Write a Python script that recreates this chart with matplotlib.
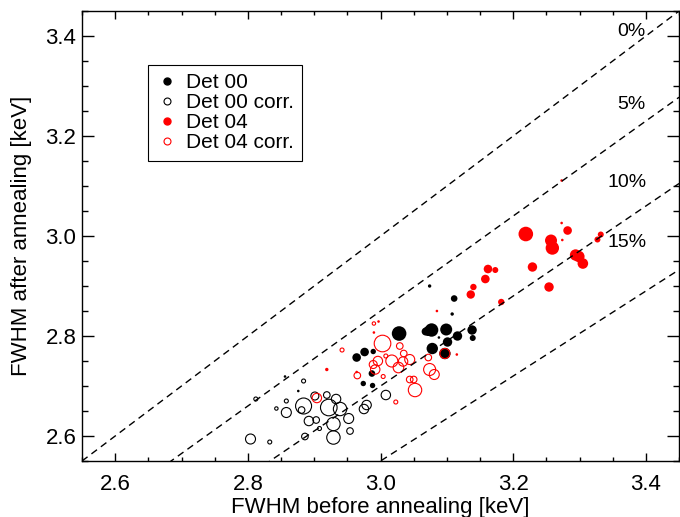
import matplotlib
matplotlib.use('Agg')
import matplotlib.pyplot as plt
from matplotlib.lines import Line2D
import numpy as np

plt.rcParams['font.family'] = ['Liberation Sans', 'DejaVu Sans']

# values: before, after, marker radius (px)
det00_x = [3.028, 2.964, 2.976, 2.989, 2.987, 2.974, 2.988, 3.072, 3.077, 3.099, 3.116,
           3.138, 3.139, 3.101, 3.078, 3.097, 3.088, 3.108, 3.111, 3.074, 2.876, 2.856, 3.068]
det00_y = [2.805, 2.757, 2.768, 2.769, 2.725, 2.705, 2.701, 2.810, 2.812, 2.813, 2.800,
           2.812, 2.796, 2.788, 2.775, 2.765, 2.797, 2.844, 2.875, 2.900, 2.690, 2.719, 2.809]
det00_r = [7.3, 4.3, 4.3, 2.7, 3.3, 2.7, 2.7, 5.0, 6.7, 6.0, 4.7,
           4.7, 3.0, 4.7, 5.7, 5.7, 1.3, 1.7, 3.3, 1.7, 1.3, 1.3, 4.0]

det00c_x = [2.804, 2.833, 2.812, 2.843, 2.858, 2.858, 2.884, 2.884, 2.881, 2.901, 2.903,
            2.892, 2.908, 2.886, 2.919, 2.922, 2.933, 2.939, 2.929, 2.929, 2.952, 2.954,
            2.975, 2.979, 3.008]
det00c_y = [2.594, 2.588, 2.674, 2.655, 2.670, 2.647, 2.710, 2.660, 2.652, 2.680, 2.632,
            2.630, 2.615, 2.599, 2.682, 2.657, 2.674, 2.654, 2.624, 2.597, 2.635, 2.610,
            2.654, 2.662, 2.682]
det00c_r = [5.0, 2.0, 2.0, 1.7, 2.0, 5.0, 2.0, 8.0, 3.3, 4.0, 3.3,
            4.7, 2.0, 3.3, 3.3, 8.3, 4.7, 6.7, 6.7, 6.7, 5.0, 3.3,
            4.7, 4.7, 4.7]

det04_x = [2.919, 2.997, 2.990, 2.964, 3.115, 3.085, 3.136, 3.140, 3.158, 3.182, 3.273,
           3.273, 3.274, 3.219, 3.257, 3.259, 3.282, 3.332, 3.327, 3.294, 3.299, 3.305,
           3.229, 3.254, 3.162, 3.173]
det04_y = [2.733, 2.829, 2.807, 2.728, 2.763, 2.850, 2.883, 2.898, 2.914, 2.868, 3.111,
           3.026, 2.992, 3.004, 2.991, 2.976, 3.011, 3.003, 2.993, 2.962, 2.959, 2.945,
           2.938, 2.898, 2.934, 2.932]
det04_r = [1.7, 1.3, 1.3, 1.3, 1.3, 1.3, 4.2, 3.2, 4.3, 3.2, 1.3,
           1.3, 1.3, 7.3, 6.0, 6.7, 4.3, 3.0, 3.0, 5.7, 5.7, 5.3,
           4.7, 4.7, 4.3, 3.0]

det04c_x = [2.904, 2.942, 2.990, 3.003, 2.965, 2.989, 2.992, 2.996, 3.004, 3.008, 3.017,
            3.027, 3.029, 3.035, 3.044, 3.044, 3.050, 3.052, 3.023, 3.072, 3.074, 3.081,
            3.097, 3.034]
det04c_y = [2.676, 2.772, 2.825, 2.785, 2.721, 2.743, 2.733, 2.750, 2.719, 2.760, 2.750,
            2.737, 2.780, 2.765, 2.753, 2.713, 2.713, 2.692, 2.668, 2.757, 2.733, 2.723,
            2.765, 2.749]
det04c_r = [4.7, 2.0, 1.7, 8.3, 3.3, 4.0, 4.7, 4.7, 2.0, 2.0, 6.0,
            5.3, 3.3, 3.3, 5.0, 3.3, 3.3, 6.7, 2.0, 3.3, 6.0, 5.0,
            5.0, 4.7]

percent = [0, 5, 10, 15]
label_x = [3.378, 3.378, 3.372, 3.372]
label_y = [3.410, 3.263, 3.108, 2.987]


def area(r):
    # radius in px -> scatter area in pt^2 at 100 dpi
    return (2 * np.asarray(r) * 0.72) ** 2


fig = plt.figure(figsize=(6.8, 5.17), dpi=100)
ax = fig.add_axes([0.1206, 0.1083, 0.878, 0.8704])

xx = np.array([2.55, 3.45])
for p, lx, ly in zip(percent, label_x, label_y):
    ax.plot(xx, xx * (1 - p / 100), color='black', lw=1.0, ls=(0, (5, 3.5)))
    ax.text(lx, ly, f"{p}%", fontsize=14, ha='center', va='center')

ax.scatter(det00_x, det00_y, s=area(det00_r), c='black', edgecolors='none')
ax.scatter(det00c_x, det00c_y, s=area(det00c_r), facecolors='none', edgecolors='black', linewidths=0.8)
ax.scatter(det04_x, det04_y, s=area(det04_r), c='red', edgecolors='none')
ax.scatter(det04c_x, det04c_y, s=area(det04c_r), facecolors='none', edgecolors='red', linewidths=0.8)

ax.set_xlim(2.55, 3.45)
ax.set_ylim(2.55, 3.45)
ax.set_xticks(np.arange(2.6, 3.41, 0.2))
ax.set_yticks(np.arange(2.6, 3.41, 0.2))
ax.set_xticks(np.arange(2.55, 3.451, 0.05), minor=True)
ax.set_yticks(np.arange(2.55, 3.451, 0.05), minor=True)
ax.xaxis.set_major_formatter(matplotlib.ticker.FormatStrFormatter('%.1f'))
ax.yaxis.set_major_formatter(matplotlib.ticker.FormatStrFormatter('%.1f'))
ax.tick_params(which='both', direction='in', top=True, right=True, labelsize=16, width=1.0)
ax.tick_params(axis='x', which='major', length=6, pad=9)
ax.tick_params(axis='x', which='minor', length=3)
ax.tick_params(axis='y', which='major', length=8.5, pad=4)
ax.tick_params(axis='y', which='minor', length=4)
for sp in ax.spines.values():
    sp.set_linewidth(1.0)

ax.set_xlabel("FWHM before annealing [keV]", fontsize=16, labelpad=2)
ax.set_ylabel("FWHM after annealing [keV]", fontsize=16, labelpad=10)

handles = [
    Line2D([], [], ls='none', marker='o', ms=5, mfc='black', mec='black'),
    Line2D([], [], ls='none', marker='o', ms=5, mfc='none', mec='black', mew=0.8),
    Line2D([], [], ls='none', marker='o', ms=5, mfc='red', mec='red'),
    Line2D([], [], ls='none', marker='o', ms=5, mfc='none', mec='red', mew=0.8),
]
leg = ax.legend(handles, ["Det 00", "Det 00 corr.", "Det 04", "Det 04 corr."],
                loc='upper left', bbox_to_anchor=(0.1106, 0.88), fontsize=15,
                frameon=True, fancybox=False, edgecolor='black', framealpha=1,
                handlelength=1.0, handletextpad=0.4, labelspacing=0.05, borderpad=0.4,
                borderaxespad=0)
leg.get_frame().set_linewidth(0.8)

fig.savefig("out.png", dpi=100)
